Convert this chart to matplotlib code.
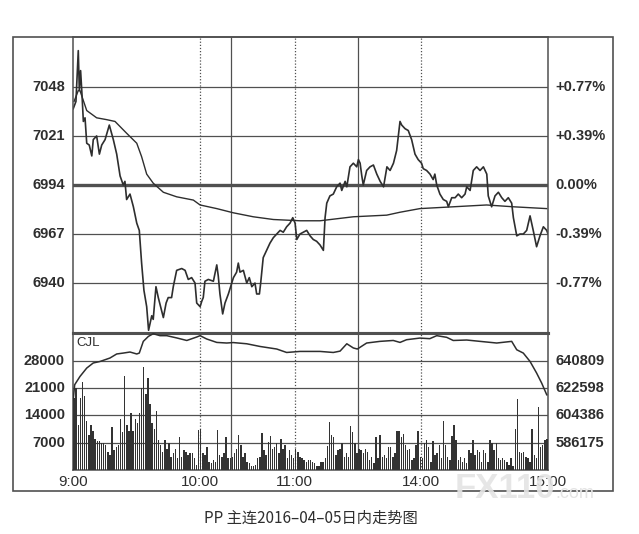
import numpy as np
import matplotlib.pyplot as plt
from matplotlib.patches import Rectangle

plt.rcParams['font.family'] = ['Liberation Sans', 'DejaVu Sans']

# minutes since 9:00 on a trading clock (9:00-10:15, 10:30-11:30, 13:30-15:00)
price_min = [0.1, 1.4, 2.5, 3.0, 3.6, 4.3, 4.9, 5.7, 6.5, 7.7, 8.9, 9.6, 11.2, 12.5, 13.6,
             15.2, 17.2, 19.1, 20.7, 22.3, 23.8, 24.6, 25.4, 27.0, 28.6, 30.2, 31.4, 32.5,
             33.6, 34.9, 35.8, 37.3, 38.0, 39.3, 40.4, 41.5, 42.8, 44.1, 45.1, 46.7, 47.5,
             49.1, 51.5, 53.1, 54.6, 56.2, 57.8, 58.6, 60.2, 61.0, 61.7, 62.5, 64.1, 66.5,
             68.1, 68.8, 69.6, 70.9, 72.0, 73.6, 75.2, 76.0, 77.5, 78.3, 79.1, 80.7, 82.3,
             83.5, 84.7, 86.2, 87.0, 88.3, 88.9, 90.1, 91.7, 93.3, 94.9, 96.5, 98.1, 99.6,
             101.2, 102.8, 104.1, 105.2, 106.0, 107.5, 109.1, 110.7, 112.3, 113.8, 115.4,
             117.0, 118.6, 119.4, 120.2, 121.7, 123.3, 124.9, 126.5, 127.3, 128.9, 129.7,
             131.2, 132.8, 134.4, 135.2, 136.0, 136.8, 137.5, 139.1, 140.7, 142.3, 143.9,
             145.5, 147.1, 148.7, 150.2, 151.8, 153.3, 154.9, 155.7, 157.3, 158.8, 160.4,
             162.0, 163.5, 165.1, 165.9, 167.5, 169.1, 170.6, 171.4, 172.3, 173.8, 175.4,
             177.0, 177.8, 179.4, 181.0, 182.5, 184.1, 185.7, 186.5, 188.1, 189.6, 191.2,
             192.8, 194.4, 196.0, 196.7, 198.3, 199.9, 201.5, 203.1, 204.6, 206.2, 207.8,
             208.6, 210.2, 211.7, 213.3, 214.9, 216.5, 218.0, 219.6, 221.2, 222.8, 224.4, 225.0]
price_val = [7036, 7040, 7068, 7046, 7057, 7043, 7029, 7031, 7017, 7016, 7010, 7019, 7021, 7011, 7016,
             7019, 7027, 7019, 7011, 6999, 6994, 6996, 6986, 6989, 6982, 6973, 6969, 6951,
             6936, 6927, 6914, 6922, 6920, 6938, 6932, 6927, 6921, 6929, 6932, 6932, 6938,
             6947, 6948, 6947, 6942, 6943, 6940, 6929, 6927, 6930, 6932, 6941, 6942, 6941,
             6950, 6944, 6934, 6923, 6929, 6934, 6940, 6943, 6946, 6951, 6946, 6947, 6940,
             6943, 6938, 6940, 6934, 6934, 6940, 6954, 6958, 6962, 6965, 6967, 6969, 6968,
             6971, 6973, 6976, 6973, 6964, 6967, 6968, 6969, 6966, 6964, 6963,
             6961, 6958, 6976, 6984, 6988, 6989, 6993, 6995, 6991, 6996, 6993,
             7004, 7006, 7004, 7008, 7006, 6999, 6994, 7002, 7004, 7005, 7000,
             6996, 6993, 7004, 7002, 7006, 7013, 7029, 7027, 7025, 7024, 7019,
             7011, 7008, 7006, 7003, 7002, 7000, 6997, 7000, 6994, 6989, 6986,
             6985, 6982, 6987, 6987, 6989, 6987, 6989, 6993, 6991, 7002, 7004,
             7002, 7004, 7000, 6988, 6982, 6988, 6990, 6987, 6985, 6987, 6984,
             6976, 6966, 6967, 6967, 6969, 6977, 6969, 6960, 6966, 6971, 6969, 6967]

avg_min = [0.5, 2.5, 3.3, 6.5, 11.2, 15.9, 19.9, 25.4, 30.2, 32.5, 34.9, 38.0, 42.8, 49.1,
           57.0, 60.2, 68.1, 75.9, 85.4, 94.9, 107.5, 117.0, 132.8, 148.6, 154.9, 164.3,
           180.1, 195.9, 208.6, 224.4]
avg_val = [7040, 7046, 7046, 7035, 7031, 7030, 7029, 7022.5, 7017, 7009.6, 7000, 6995, 6990,
           6987.5, 6985.7, 6983, 6981, 6978.7, 6976.5, 6975, 6974.3, 6974.3, 6976.5, 6977.4,
           6979, 6981, 6982, 6983, 6982, 6981]

# open interest (right scale of lower panel)
oi_min = [0.1, 0.8, 3.3, 6.5, 9.6, 12.8, 17.5, 20.7, 23.8, 27.0, 30.2, 31.4, 33.3, 35.7, 38.0,
          41.2, 44.4, 49.1, 53.9, 58.6, 60.2, 63.3, 68.1, 72.8, 75.9, 82.3, 88.6, 96.5,
          101.2, 107.5, 117.0, 123.3, 126.5, 129.7, 132.8, 134.7, 139.1, 145.4, 151.7,
          154.9, 158.0, 164.3, 169.0, 172.3, 177.0, 180.1, 186.5, 192.8, 200.7, 207.8,
          210.2, 213.3, 216.5, 219.6, 222.0, 224.4]
oi_val = [614800, 624800, 630300, 635900, 639300, 640300, 642600, 645300, 645900, 646600,
          645300, 645900, 653700, 657000, 658800, 657500, 657500, 656000, 654300, 656600,
          657500, 655300, 653000, 652600, 652900, 652100, 650300, 648600, 646300, 647000,
          647000, 646300, 647200, 652100, 649300, 648600, 652600, 653700, 654300, 653000,
          654800, 655900, 655500, 657500, 656400, 654300, 654600, 653700, 652600, 653700,
          648100, 645900, 640300, 632600, 625900, 618100]

# volume per minute (thousands)
vol = [18.5, 21, 11.5, 18.5, 22.5, 19, 12.5, 9, 11.5, 10, 8, 7.5, 7.5, 7, 6.8,      # 0-14
       6.5, 4.7, 3.8, 11, 5, 6, 6.5, 13, 9.8, 24, 11.5, 10, 14.5, 10, 13,          # 15-29
       12, 14.5, 21, 26.5, 19.5, 23.5, 17, 12, 10.5, 15, 7.7, 6.4, 4.5, 7.7, 5.5,  # 30-44
       6.8, 3.4, 4.3, 5.5, 3, 8.5, 3.4, 5.1, 4.7, 3.8, 4.3, 4.3, 3, 1.3, 10.2,     # 45-59
       10.6, 4.3, 3.8, 6, 2.1, 1.7, 2.6, 2.1, 10.2, 3.8, 3.4, 4.3, 8.5, 3, 3,      # 60-74
       3.4, 4.3, 5.5, 9, 6.4, 3.4, 4.3, 2.1, 1.7, 0.9, 1, 1.3, 3, 3.4, 9.5,        # 75-89
       5.1, 3.8, 7.3, 8.7, 5.5, 6, 6.8, 4.3, 8, 5.5, 6.4, 3, 5.1, 3.8, 3,          # 90-104
       5.5, 4.7, 3.4, 3, 2.6, 2.1, 2.6, 2.6, 2.1, 1.7, 1, 0.9, 2.1, 2.1, 3,        # 105-119
       6.1, 12.4, 9, 8.5, 3.8, 5.1, 5.5, 6.8, 3.4, 4.3, 3.4, 11.3, 9.8, 6.8, 4.3,  # 120-134
       5.5, 5.1, 4.3, 5.5, 4.7, 2.6, 3.4, 1.7, 8.4, 3, 9, 3.4, 3.8, 3, 6,          # 135-149
       6, 3.4, 4.3, 10, 10, 8.5, 9.2, 6.4, 5.1, 5.5, 2.6, 3, 6.4, 10, 3.4,         # 150-164
       3, 6.8, 7.7, 6, 2.1, 7.5, 3.8, 4.3, 6.4, 3, 12.6, 6.4, 3.4, 2.6, 8.7,       # 165-179
       11.5, 7.7, 2.6, 3.4, 2.1, 3, 1.7, 5.1, 4.3, 7.7, 3.8, 5.1, 4.7, 2.1, 5.1,   # 180-194
       4.3, 2.1, 7.7, 6.8, 5.1, 6.8, 3, 2.6, 3, 2.6, 2.1, 1.3, 3, 1, 10.5,         # 195-209
       18.3, 4.7, 4.3, 4.7, 3.4, 3, 2.1, 10.6, 3.8, 3, 16.2, 6, 6.4, 7.7, 8]       # 210-224

price_ticks = [7048, 7021, 6994, 6967, 6940]
pct_labels = ['+0.77%', '+0.39%', '0.00%', '-0.39%', '-0.77%']
vol_ticks = [28000, 21000, 14000, 7000]
oi_ticks = [640809, 622598, 604386, 586175]
time_pos = [0, 60, 105, 165, 225]
time_labels = ['9:00', '10:00', '11:00', '14:00', '15:00']

W, H = 639, 534
fig = plt.figure(figsize=(W / 100, H / 100), dpi=100)
fig.patch.set_facecolor('white')


def box(x0, y0, x1, y1):
    return [x0 / W, 1 - y1 / H, (x1 - x0) / W, (y1 - y0) / H]


ink = '#2e2e2e'
grid = '#505050'

ax = fig.add_axes(box(73, 37, 548, 333))
axv = fig.add_axes(box(73, 333, 548, 470))

for a in (ax, axv):
    a.set_xlim(0, 225)
    a.set_xticks([])
    a.set_yticks([])
    for s in a.spines.values():
        s.set_color(grid)
        s.set_linewidth(1.1)
    for m in (75, 135):
        a.axvline(m, color=grid, lw=0.9)
    for m in (60, 105, 165):
        a.axvline(m, color=grid, lw=0.9, ls=(0, (1, 1.5)))
ax.spines['bottom'].set_linewidth(2.2)
axv.spines['top'].set_linewidth(2.2)

# price panel
ax.set_ylim(6912.5, 7075.5)
for v, p in zip(price_ticks, pct_labels):
    ax.axhline(v, color=grid, lw=2.4 if v == 6994 else 0.9)
    ax.text(-0.017, v, str(v), transform=ax.get_yaxis_transform(), ha='right', va='center',
            fontsize=10.5, fontweight='bold', color=ink)
    ax.text(1.015, v, p, transform=ax.get_yaxis_transform(), ha='left', va='center',
            fontsize=10.5, fontweight='bold', color=ink)
ax.plot(avg_min, avg_val, color=ink, lw=1.0)
ax.plot(price_min, price_val, color=ink, lw=1.2)

# volume panel
axv.set_ylim(0, 35100)
for v in vol_ticks:
    axv.axhline(v, color=grid, lw=0.9)
    axv.text(-0.017, v, str(v), transform=axv.get_yaxis_transform(), ha='right', va='center',
             fontsize=10.5, fontweight='bold', color=ink)
vx = np.arange(len(vol)) + 0.5
axv.bar(vx, np.array(vol) * 1000, width=0.65, color='#333333', zorder=3)
axv.text(0.007, 0.93, 'CJL', transform=axv.transAxes, ha='left', va='center',
         fontsize=9.5, color=ink)

axo = axv.twinx()
axo.set_ylim(586175 - 18211, 586175 - 18211 + 35100 * 18211 / 7000)
axo.set_yticks([])
for s in axo.spines.values():
    s.set_visible(False)
axo.plot(oi_min, oi_val, color=ink, lw=1.1)
for v in oi_ticks:
    axo.text(1.015, v, str(v), transform=axo.get_yaxis_transform(), ha='left', va='center',
             fontsize=10.5, fontweight='bold', color=ink)

for m, t in zip(time_pos, time_labels):
    axv.text(m, -0.088, t, transform=axv.get_xaxis_transform(), ha='center', va='center',
             fontsize=11, color=ink)

fig.patches.append(Rectangle((13 / W, 1 - 491 / H), 600 / W, 454 / H, transform=fig.transFigure,
                             fill=False, lw=1.2, ec=grid))

# faint site watermark sitting over the last time label, as in the scan
fig.text(505 / W, 1 - 488 / H, 'FX110', fontsize=25, fontweight='bold', color='#e4e4e4',
         ha='center', va='center', alpha=0.9)
fig.text(575 / W, 1 - 493 / H, '.com', fontsize=13, color='#e4e4e4', ha='center', va='center')

fig.text(311 / W, 1 - 518 / H, 'PP 主连2016–04–05日内走势图', fontsize=11, color=ink,
         ha='center', va='center', family=['Noto Sans CJK SC', 'DejaVu Sans'])

fig.savefig('out.png', dpi=100)
